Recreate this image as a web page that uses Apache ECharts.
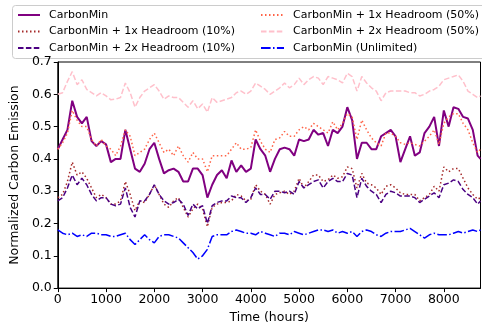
<!DOCTYPE html>
<html><head><meta charset="utf-8">
<script src="https://cdn.jsdelivr.net/npm/echarts@6/dist/echarts.min.js"></script>
<style>html,body{margin:0;padding:0;background:#fff}#c{width:482px;height:329px}</style>
</head><body><div id="c"></div>
<script>
const hours = [0,100,200,300,400,500,600,700,800,900,1000,1100,1200,1300,1400,1500,1600,1700,
1800,1900,2000,2100,2200,2300,2400,2500,2600,2700,2800,2900,3000,3100,3200,3300,3400,3500,
3600,3700,3800,3900,4000,4100,4200,4300,4400,4500,4600,4700,4800,4900,5000,5100,5200,5300,
5400,5500,5600,5700,5800,5900,6000,6100,6200,6300,6400,6500,6600,6700,6800,6900,7000,
7100,7200,7300,7400,7500,7600,7700,7800,7900,8000,8100,8200,8300,8400,8500,8600,8700,8760];

const carbonMin = [0.43,0.46,0.49,0.58,0.53,0.51,0.53,0.455,0.44,0.455,0.445,0.39,0.40,0.40,0.49,0.43,0.37,0.36,
0.385,0.43,0.45,0.40,0.355,0.365,0.37,0.36,0.33,0.33,0.37,0.37,0.35,0.28,0.32,0.35,0.365,0.34,
0.395,0.36,0.38,0.36,0.37,0.46,0.43,0.41,0.36,0.40,0.43,0.435,0.43,0.41,0.46,0.455,0.46,0.49,
0.475,0.48,0.44,0.49,0.48,0.50,0.56,0.52,0.40,0.45,0.45,0.43,0.43,0.47,0.48,0.49,0.47,
0.39,0.43,0.47,0.41,0.42,0.48,0.50,0.53,0.44,0.55,0.50,0.56,0.555,0.53,0.525,0.49,0.41,0.40];

const head1x10 = [0.28,0.29,0.33,0.39,0.35,0.36,0.34,0.31,0.28,0.29,0.28,0.26,0.26,0.27,0.33,0.29,0.24,0.27,
0.265,0.29,0.32,0.29,0.26,0.25,0.27,0.28,0.25,0.22,0.245,0.26,0.245,0.19,0.25,0.26,0.265,0.265,
0.27,0.29,0.285,0.27,0.275,0.32,0.30,0.29,0.26,0.29,0.295,0.30,0.29,0.30,0.34,0.31,0.33,0.35,
0.35,0.33,0.335,0.35,0.34,0.345,0.375,0.37,0.31,0.355,0.325,0.32,0.31,0.29,0.315,0.32,0.31,
0.295,0.29,0.29,0.29,0.27,0.28,0.29,0.315,0.30,0.375,0.36,0.37,0.37,0.34,0.31,0.29,0.275,0.28];

const head2x10 = [0.27,0.28,0.31,0.35,0.32,0.34,0.32,0.29,0.27,0.28,0.28,0.26,0.255,0.26,0.31,0.25,0.22,0.27,
0.27,0.29,0.32,0.29,0.27,0.26,0.265,0.275,0.26,0.225,0.26,0.245,0.255,0.20,0.255,0.265,0.27,0.27,
0.285,0.28,0.28,0.265,0.28,0.31,0.29,0.29,0.275,0.30,0.30,0.295,0.30,0.29,0.33,0.31,0.32,0.33,
0.335,0.31,0.33,0.34,0.33,0.33,0.355,0.35,0.28,0.34,0.315,0.30,0.29,0.265,0.29,0.30,0.295,
0.285,0.285,0.285,0.28,0.265,0.275,0.285,0.295,0.28,0.32,0.325,0.335,0.33,0.305,0.29,0.28,0.26,0.27];

const head1x50 = [0.43,0.45,0.48,0.55,0.52,0.50,0.50,0.46,0.44,0.46,0.44,0.43,0.41,0.44,0.49,0.47,0.41,0.42,
0.43,0.46,0.48,0.45,0.42,0.43,0.41,0.44,0.41,0.39,0.42,0.40,0.40,0.36,0.41,0.41,0.41,0.41,
0.43,0.45,0.43,0.43,0.435,0.49,0.455,0.43,0.42,0.46,0.465,0.485,0.47,0.47,0.49,0.50,0.49,0.51,
0.50,0.49,0.48,0.515,0.49,0.51,0.54,0.53,0.46,0.52,0.49,0.465,0.45,0.44,0.48,0.48,0.47,
0.45,0.445,0.45,0.445,0.44,0.455,0.47,0.49,0.445,0.51,0.53,0.54,0.54,0.51,0.49,0.45,0.42,0.43];

const head2x50 = [0.60,0.605,0.64,0.67,0.63,0.645,0.615,0.605,0.595,0.605,0.595,0.583,0.585,0.59,0.635,0.605,0.56,0.59,
0.61,0.62,0.63,0.61,0.585,0.595,0.59,0.59,0.575,0.56,0.58,0.555,0.57,0.545,0.59,0.575,0.58,0.585,
0.59,0.605,0.61,0.60,0.61,0.635,0.625,0.615,0.60,0.61,0.62,0.635,0.62,0.63,0.65,0.63,0.645,0.655,
0.65,0.63,0.655,0.65,0.645,0.635,0.665,0.655,0.61,0.655,0.635,0.62,0.61,0.58,0.605,0.61,0.61,
0.61,0.61,0.605,0.605,0.595,0.60,0.61,0.615,0.625,0.645,0.65,0.655,0.66,0.64,0.61,0.60,0.59,0.595];

const unlimited = [0.18,0.17,0.165,0.17,0.16,0.165,0.16,0.17,0.17,0.165,0.165,0.16,0.16,0.165,0.17,0.15,0.135,0.15,
0.165,0.15,0.14,0.16,0.165,0.165,0.16,0.155,0.14,0.125,0.11,0.09,0.10,0.12,0.16,0.165,0.165,0.165,
0.175,0.18,0.175,0.17,0.17,0.165,0.175,0.17,0.165,0.16,0.17,0.17,0.165,0.175,0.17,0.165,0.17,0.175,
0.18,0.18,0.175,0.18,0.17,0.175,0.17,0.175,0.16,0.175,0.18,0.175,0.165,0.16,0.17,0.175,0.175,
0.175,0.18,0.185,0.175,0.165,0.155,0.165,0.17,0.165,0.165,0.165,0.17,0.175,0.17,0.175,0.18,0.175,0.18];

const names = ['CarbonMin','CarbonMin + 1x Headroom (10%)','CarbonMin + 2x Headroom (10%)',
  'CarbonMin + 1x Headroom (50%)','CarbonMin + 2x Headroom (50%)','CarbonMin (Unlimited)'];

const pair = arr => hours.map((h,i)=>[h,arr[i]]);
const FONT = 'DejaVu Sans';

function mk(name, data, color, width, type){
  return {name, type:'line', data:pair(data), symbol:'none', showSymbol:false, animation:false,
    lineStyle:{color, width, type}, itemStyle:{color}};
}

const legendBase = {orient:'vertical', top:8, itemWidth:22, itemHeight:10, itemGap:2.5, padding:0,
  itemStyle:{opacity:0, borderWidth:0},
  textStyle:{fontFamily:FONT, fontSize:11, color:'#000', lineHeight:14, padding:[0,0,0,4]}, z:5};

const chart = echarts.init(document.getElementById('c'), null, {renderer:'canvas'});
chart.setOption({
  animation:false,
  grid:{left:53, right:1.5, top:62, bottom:37, show:true, borderColor:'#000', borderWidth:1, backgroundColor:'transparent'},
  graphic:[{type:'rect', shape:{x:12.5, y:5.5, width:480, height:53, r:3},
    style:{fill:'rgba(255,255,255,0.8)', stroke:'#cccccc', lineWidth:1}, z:0}],
  legend:[
    Object.assign({}, legendBase, {data:names.slice(0,3), left:17}),
    Object.assign({}, legendBase, {data:names.slice(3,6), left:260, itemWidth:23})
  ],
  xAxis:{type:'value', min:0, max:8760, interval:1000, name:'Time (hours)', nameLocation:'middle', nameGap:19,
    nameTextStyle:{fontFamily:FONT, fontSize:12.5, color:'#000'},
    axisLine:{lineStyle:{color:'#000', width:1}}, axisTick:{length:4, lineStyle:{color:'#000'}},
    axisLabel:{fontFamily:FONT, fontSize:12.5, color:'#000', margin:5, showMaxLabel:false, formatter:v=>String(v)},
    splitLine:{show:false}},
  yAxis:{type:'value', min:0, max:0.7, interval:0.1, name:'Normalized Carbon Emission', nameLocation:'middle', nameGap:30,
    nameTextStyle:{fontFamily:FONT, fontSize:12.5, color:'#000'},
    axisLine:{show:true, lineStyle:{color:'#000', width:1}}, axisTick:{show:true, length:4, lineStyle:{color:'#000'}},
    axisLabel:{fontFamily:FONT, fontSize:12.5, color:'#000', margin:6, formatter:v=>v.toFixed(1)},
    splitLine:{show:false}},
  series:[
    mk(names[0], carbonMin, '#800080', 2, 'solid'),
    mk(names[1], head1x10, '#a52a2a', 1.5, [1.5,2.5]),
    mk(names[2], head2x10, '#4b0082', 1.5, [5.5,2.4]),
    mk(names[3], head1x50, '#ff6347', 1.5, [1.5,2.5]),
    mk(names[4], head2x50, '#ffc0cb', 1.5, [5.5,2.4]),
    mk(names[5], unlimited, '#0000ff', 1.5, [9.6,2.4,1.5,2.4])
  ]
});
</script></body></html>
